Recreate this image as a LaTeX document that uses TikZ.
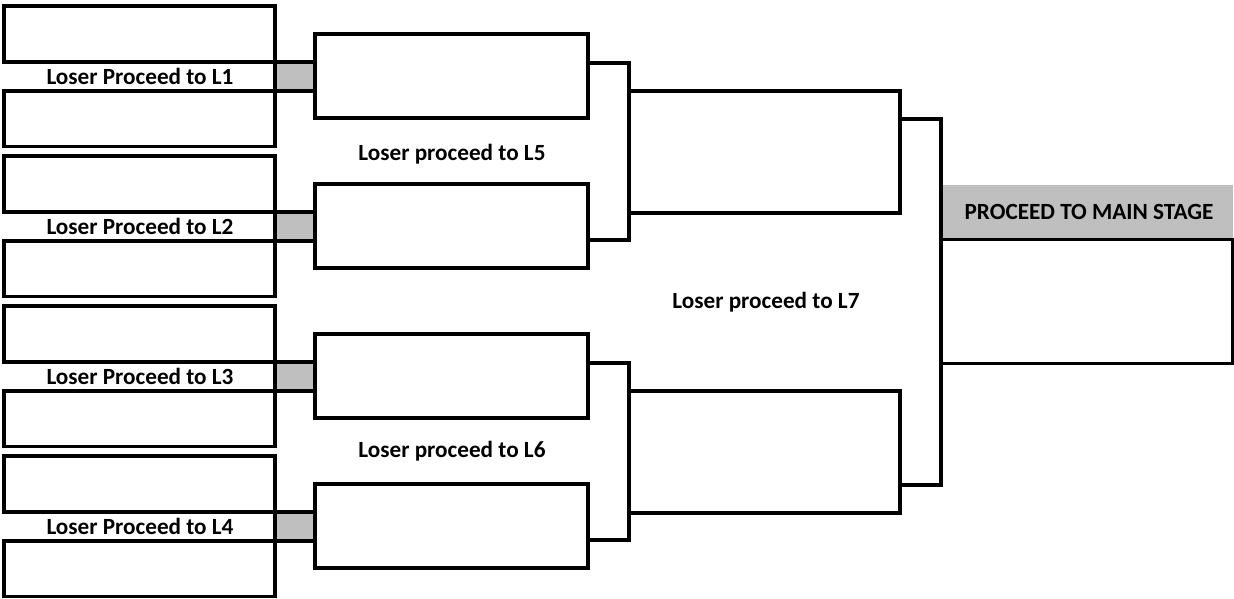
\documentclass[tikz,border=0pt]{standalone}
\usepackage{fontspec}
\setmainfont{Carlito}
\definecolor{hdrgray}{RGB}{191,191,191}
\tikzset{
  box/.style={draw, line width=3.5pt, outer sep=0pt, inner sep=0pt, anchor=north west},
  graybox/.style={box, fill=hdrgray},
  lbl/.style={font=\bfseries\fontsize{23.2}{26}\selectfont, inner sep=0pt},
  conn/.style={draw, line width=3.5pt},
}
\begin{document}
\begin{tikzpicture}[x=1pt,y=-1pt]
\useasboundingbox (0,0) rectangle (1234,599);
% column 1
\foreach \g in {0,1,2,3}{
  \node[box, minimum width=271pt, minimum height=56pt] (a\g t) at (4,{6+150*\g}) {};
  \node[box, minimum width=271pt, minimum height=55.5pt] (a\g b) at (4,{91+150*\g}) {};
  \node[graybox, minimum width=40pt, minimum height=29pt] (g\g) at (275,{62+150*\g}) {};
  \node[box, minimum width=273pt, minimum height=84pt] (c\g) at (315,{34+150*\g}) {};
}
\foreach \g/\n in {0/1,1/2,2/3,3/4}{
  \node[lbl] (la\g) at (140,{76.5+150*\g}) {Loser Proceed to L\n};
}
% column 3
\node[box, minimum width=271pt, minimum height=122pt] (d0) at (629,91) {};
\node[box, minimum width=271pt, minimum height=122pt] (d1) at (629,391) {};
% final
\node[anchor=north west, fill=hdrgray, minimum width=292pt, minimum height=54pt, inner sep=0pt, outer sep=0pt] (fh) at (941,185) {};
\node[box, line width=3pt, minimum width=291pt, minimum height=124pt] (f) at (941,239) {};
\node[lbl] (tf) at (1089,212) {PROCEED TO MAIN STAGE};
% connectors
\draw[conn] ([yshift=-29pt]c0.north east) -| (d0.north west) -- (d0.south west) |- ([yshift=28pt]c1.south east);
\draw[conn] ([yshift=-29pt]c2.north east) -| (d1.north west) -- (d1.south west) |- ([yshift=28pt]c3.south east);
\draw[conn] ([yshift=-28pt]d0.north east) -| (f.north west) -- (f.south west) |- ([yshift=28pt]d1.south east);
% other labels
\node[lbl] (l5) at (452,154) {Loser proceed to L5};
\node[lbl] (l6) at (452,451) {Loser proceed to L6};
\node[lbl] (l7) at (766,302) {Loser proceed to L7};
\end{tikzpicture}
\end{document}
